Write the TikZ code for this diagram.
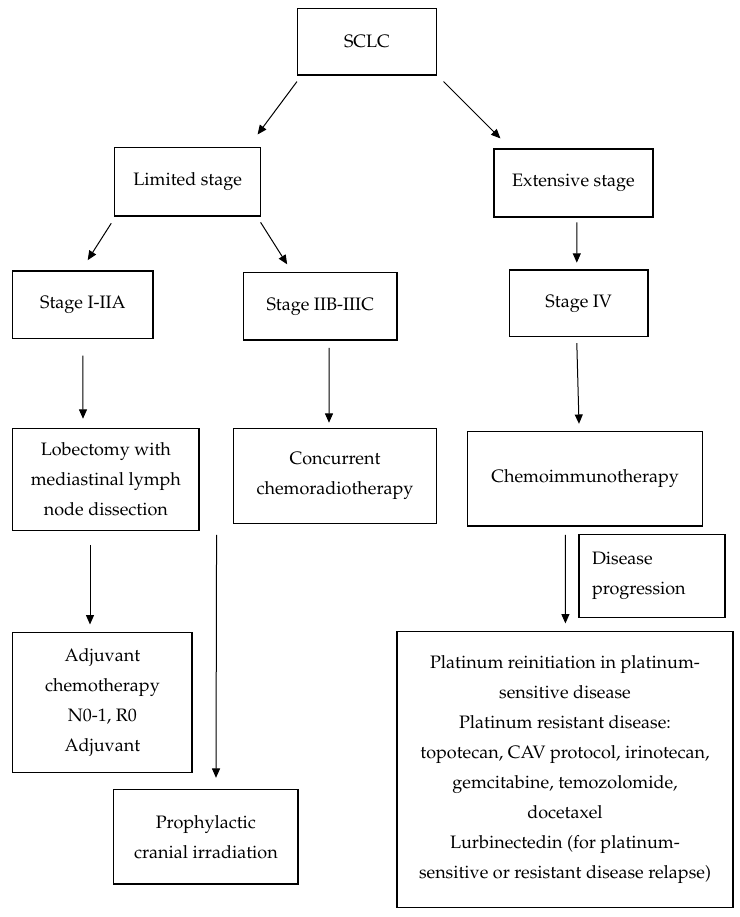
\documentclass[tikz,border=0pt]{standalone}
\usepackage[T1]{fontenc}
\usepackage{mathpazo}
\usetikzlibrary{calc,arrows.meta}
\begin{document}
\begin{tikzpicture}[x=0.75pt,y=-0.75pt,
  bx/.style={draw, line width=0.85pt, inner sep=0pt, align=center, font=\fontsize{13.5}{22.5}\selectfont},
  arr/.style={-{Triangle[length=7pt,width=6pt]}, line width=0.75pt}]
\useasboundingbox (0,0) rectangle (739,917);
\node[bx, minimum width=104.25pt, minimum height=50pt] (sclc) at (367,41.7) {SCLC};
\node[bx, minimum width=109.5pt, minimum height=51.5pt] (lim) at (187.7,181.7) {Limited stage};
\node[bx, minimum width=119.25pt, minimum height=51pt] (ext) at (573.5,183) {Extensive stage};
\node[bx, minimum width=105.15pt, minimum height=50.5pt] (s1) at (82.9,304.7) {Stage I-IIA};
\node[bx, minimum width=115pt, minimum height=50.5pt] (s2) at (320.3,306.3) {Stage IIB-IIIC};
\node[bx, minimum width=103.9pt, minimum height=50pt] (s4) at (578.7,303.3) {Stage IV};
\node[bx, minimum width=139.65pt, minimum height=76.2pt] (lob) at (105.9,479.5) {Lobectomy with\\mediastinal lymph\\node dissection};
\node[bx, minimum width=152.2pt, minimum height=70.95pt] (conc) at (335,476) {Concurrent\\chemoradiotherapy};
\node[bx, minimum width=175.95pt, minimum height=71pt] (chemo) at (585.1,478.7) {Chemoimmunotherapy};
\node[bx, align=left, text width=90pt, inner xsep=9.75pt, minimum height=62.55pt] (dp) at (652,576) {Disease\\progression};
\node[bx, minimum width=134.4pt, minimum height=105pt] (adj) at (102.4,702.7) {Adjuvant\\chemotherapy\\N0-1, R0\\Adjuvant};
\node[bx, minimum width=138.2pt, minimum height=71pt] (pro) at (205.9,836.7) {Prophylactic\\cranial irradiation};
\node[bx, minimum width=252pt, minimum height=206.7pt] (plat) at (565,769.5) {Platinum reinitiation in platinum-\\sensitive disease\\Platinum resistant disease:\\topotecan, CAV protocol, irinotecan,\\gemcitabine, temozolomide,\\docetaxel\\Lurbinectedin (for platinum-\\sensitive or resistant disease relapse)};
\draw[arr] ($(sclc.south west)+(0,6)$) -- ($(lim.north east)+(-3.7,-12.3)$);
\draw[arr] ($(sclc.south east)+(6.5,6)$) -- ($(ext.north west)+(7,-10)$);
\draw[arr] ($(lim.south west)+(-2.9,6.7)$) -- ($(s1.north)+(4.8,-10.3)$);
\draw[arr] ($(lim.south east)+(-0.7,5.7)$) -- ($(s2.north west)+(44.1,-7.7)$);
\draw[arr] ($(ext.south)+(3.3,4.7)$) -- ($(s4.north)+(-1.9,-6.7)$);
\draw[arr] ($(s1.south)+(0,16.7)$) -- ($(lob.north)+(-22.9,-9.4)$);
\draw[arr] ($(s2.south)+(8.7,7.3)$) -- ($(conc.north)+(-6,-5.4)$);
\draw[arr] ($(s4.south)+(-1.9,6)$) -- ($(chemo.north)+(-6.1,-7)$);
\draw[arr] ($(lob.south)+(-15.9,14)$) -- ($(adj.north)+(-12.4,-7.7)$);
\draw[arr] ($(lob.south east)+(17,4)$) -- ($(pro.north)+(10.1,-11)$);
\draw[arr] ($(chemo.south)+(-19.7,8.3)$) -- ($(plat.north)+(0.4,-7.7)$);
\end{tikzpicture}
\end{document}
